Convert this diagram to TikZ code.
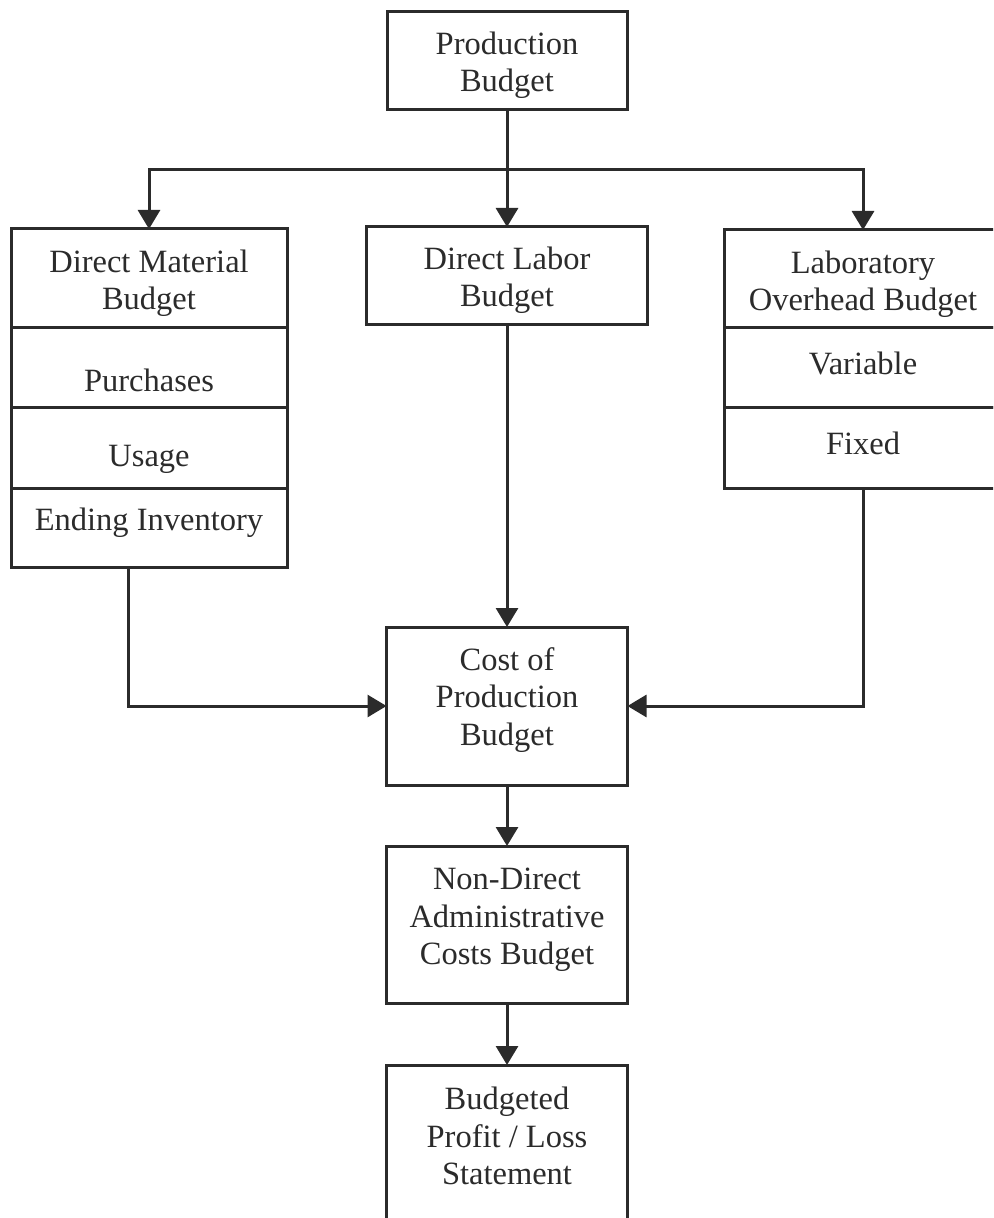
\documentclass[tikz,border=0pt]{standalone}
\usepackage{fontspec}
\setmainfont{Liberation Serif}
\usetikzlibrary{arrows.meta}
\definecolor{ink}{HTML}{2B2B2B}
\begin{document}
\begin{tikzpicture}[x=0.5pt,y=-0.5pt,
  box/.style={draw=ink,line width=1.5pt,inner sep=0pt,outer sep=0pt,fill=white},
  txt/.style={text=ink,align=center,inner sep=0pt,font=\fontsize{16.25}{18.75}\selectfont},
  arr/.style={draw=ink,line width=1.5pt,-{Triangle[length=9.5pt,width=11pt]}},
  ln/.style={draw=ink,line width=1.5pt}]
\useasboundingbox (0,0) rectangle (993,1218);
\clip (0,0) rectangle (993,1218);
% boxes
\node[box,minimum width=120pt,minimum height=49pt] (prod) at (507,61) {};
\node[box,minimum width=140.5pt,minimum height=49pt] (dl) at (507,276) {};
\node[box,minimum width=138pt,minimum height=49.5pt] (dmT) at (149,278.5) {};
\node[box,minimum width=138pt,minimum height=40pt] (dmP) at (149,368) {};
\node[box,minimum width=138pt,minimum height=40pt] (dmU) at (149,448) {};
\node[box,minimum width=138pt,minimum height=39.5pt] (dmE) at (149,527.5) {};
\node[box,minimum width=139pt,minimum height=49pt] (loT) at (863,279) {};
\node[box,minimum width=139pt,minimum height=40pt] (loV) at (863,368) {};
\node[box,minimum width=139pt,minimum height=40pt] (loF) at (863,448) {};
\node[box,minimum width=120.5pt,minimum height=79pt] (cost) at (507,706) {};
\node[box,minimum width=120.5pt,minimum height=78.5pt] (nd) at (507,924.5) {};
\node[box,minimum width=120.5pt,minimum height=78.5pt] (bud) at (507,1143.5) {};
% texts
\node[txt] (tprod) at (507,65) {Production\\Budget};
\node[txt] (tdl) at (507,280) {Direct Labor\\Budget};
\node[txt] (tdmT) at (149,283) {Direct Material\\Budget};
\node[txt] (tdmP) at (149,380) {Purchases};
\node[txt] (tdmU) at (149,459) {Usage};
\node[txt] (tdmE) at (149,523) {Ending Inventory};
\node[txt] (tloT) at (863,284) {Laboratory\\Overhead Budget};
\node[txt] (tloV) at (863,363) {Variable};
\node[txt] (tloF) at (863,443) {Fixed};
\node[txt] (tcost) at (507,700) {Cost of\\Production\\Budget};
\node[txt] (tnd) at (507,920) {Non-Direct\\Administrative\\Costs Budget};
\node[txt] (tbud) at (507,1136) {Budgeted\\Profit / Loss\\Statement};
% connectors
\coordinate (hy) at (0,170);
\coordinate (lc) at (128,0);
\draw[arr] (prod.south) -- (dl.north);
\draw[arr] (hy -| prod.south) -| (dmT.north);
\draw[arr] (hy -| prod.south) -| (loT.north);
\draw[arr] (dl.south) -- (cost.north);
\draw[arr] (dmE.south -| lc) |- (cost.west);
\draw[arr] (loF.south) |- (cost.east);
\draw[arr] (cost.south) -- (nd.north);
\draw[arr] (nd.south) -- (bud.north);
\end{tikzpicture}
\end{document}
